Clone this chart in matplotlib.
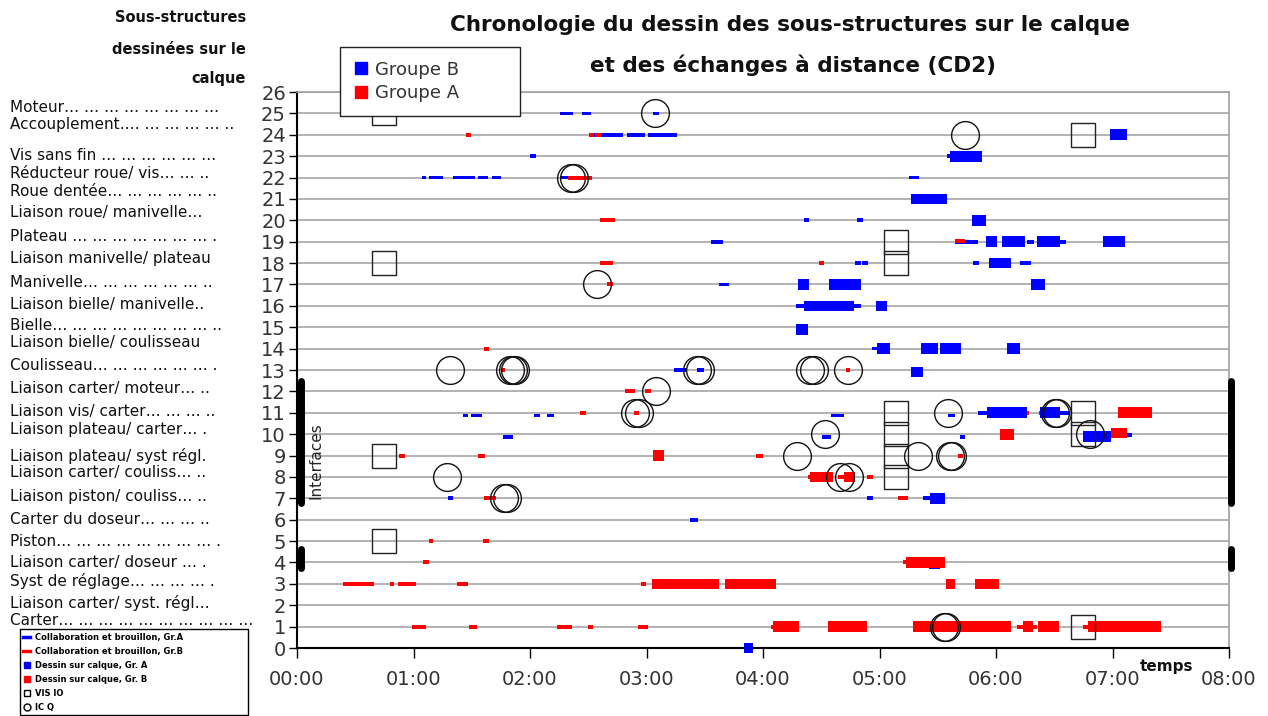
import matplotlib
matplotlib.use('Agg')
import matplotlib.pyplot as plt
from matplotlib.lines import Line2D
import matplotlib.transforms as mtransforms

# ---------------- data (time in minutes, row index) ----------------
row_labels = [
    "",
    "Carter… … … … … … … … … …",
    "Liaison carter/ syst. régl…",
    "Syst de réglage… … … … .",
    "Liaison carter/ doseur … .",
    "Piston… … … … … … … … .",
    "Carter du doseur… … … ..",
    "Liaison piston/ couliss… ..",
    "Liaison carter/ couliss… ..",
    "Liaison plateau/ syst régl.",
    "Liaison plateau/ carter… .",
    "Liaison vis/ carter… … … ..",
    "Liaison carter/ moteur… ..",
    "Coulisseau… … … … … … .",
    "Liaison bielle/ coulisseau",
    "Bielle… … … … … … … … ..",
    "Liaison bielle/ manivelle..",
    "Manivelle… … … … … … ..",
    "Liaison manivelle/ plateau",
    "Plateau … … … … … … … .",
    "Liaison roue/ manivelle…",
    "Roue dentée… … … … … ..",
    "Réducteur roue/ vis… … ..",
    "Vis sans fin … … … … … …",
    "Accouplement…. … … … … ..",
    "Moteur… … … … … … … …",
    "",
]
label_nudge = [0, 0.3, 0.1, 0.15, 0.0, 0.0, 0.0, 0.1, 0.2, 0.0, 0.2, 0.05, 0.15,
               0.2, 0.28, 0.1, 0.05, 0.1, 0.2, 0.23, 0.37, 0.37, 0.2, 0.05, 0.47, 0.28, 0]

hour_labels = ["00:00", "01:00", "02:00", "03:00", "04:00", "05:00", "06:00", "07:00", "08:00"]

# Collaboration et brouillon, Gr.A (blue thin)
blue_thin = [
    (25, 135.4, 142.1), (25, 146.8, 151.4), (25, 183.3, 186.4),
    (24, 152.4, 167.9), (24, 170.0, 179.2), (24, 180.8, 195.7),
    (23, 120.0, 123.1), (23, 334.8, 336.3),
    (22, 64.4, 66.4), (22, 68.0, 75.2), (22, 80.3, 91.7), (22, 93.2, 98.4), (22, 100.4, 105.1),
    (22, 135.4, 145.8), (22, 315.2, 320.3),
    (20, 261.1, 263.7), (20, 288.4, 291.5),
    (19, 213.2, 219.4), (19, 338.9, 350.7), (19, 376.0, 379.6), (19, 393.0, 396.0),
    (18, 287.4, 290.5), (18, 291.0, 294.1), (18, 348.2, 351.2), (18, 372.4, 378.0),
    (17, 217.3, 222.5),
    (16, 257.0, 261.1), (16, 286.9, 290.5),
    (14, 296.1, 298.7),
    (13, 194.2, 200.9), (13, 206.0, 209.6),
    (10.88, 85.5, 88.1), (10.88, 89.6, 95.3), (10.88, 122.1, 125.1), (10.88, 128.8, 132.4),
    (10.88, 275.0, 281.7), (10.88, 335.3, 338.9), (11, 350.7, 355.4), (11, 393.0, 397.6),
    (9.88, 106.1, 111.2), (9.88, 270.4, 275.0), (9.88, 341.5, 344.0), (9.95, 427.5, 430.0),
    (7, 77.8, 80.3), (7, 293.6, 296.7), (7, 322.4, 326.0),
    (6, 202.4, 206.5),
    (3.78, 325.5, 331.2),
]
# Collaboration et brouillon, Gr.B (red thin)
red_thin = [
    (24, 87.0, 89.6), (24, 150.4, 153.0), (24, 153.5, 157.1),
    (22, 139.6, 151.9),
    (20, 156.0, 163.8),
    (19.05, 338.9, 344.0),
    (18, 156.0, 162.7), (18, 268.8, 271.4),
    (17, 159.7, 162.7),
    (14, 96.3, 98.9),
    (13, 105.0, 107.0), (13, 283.0, 285.0),
    (12, 168.9, 174.1), (12, 179.2, 182.3),
    (11, 145.8, 148.8), (11, 173.6, 176.1), (11, 376.0, 377.0), (11, 382.1, 383.2),
    (9, 52.5, 55.6), (9, 93.2, 96.8), (9, 236.4, 240.0), (9, 340.4, 343.0),
    (8, 263.2, 264.2), (8, 278.6, 281.7), (8, 293.6, 296.7),
    (7, 96.3, 102.5), (7, 309.5, 314.7),
    (5, 68.0, 70.0), (5, 95.8, 98.9),
    (4, 64.9, 68.0), (4, 312.1, 313.6),
    (3, 23.7, 39.7), (3, 47.9, 50.0), (3, 52.0, 61.3), (3, 82.4, 88.1), (3, 177.2, 179.7),
    (1, 59.2, 66.4), (1, 88.6, 92.7), (1, 133.9, 141.6), (1, 149.9, 152.4), (1, 175.6, 180.8),
    (1, 244.1, 245.1), (1, 370.8, 373.9), (1, 379.0, 381.1), (1, 404.8, 407.4),
]
# Dessin sur calque, Gr. A (blue thick)
blue_thick = [
    (24, 418.7, 427.5),
    (23, 336.3, 352.8),
    (21, 316.2, 334.8),
    (20, 347.6, 354.8),
    (19, 354.8, 360.5), (19, 363.1, 374.9), (19, 381.1, 393.0), (19, 415.1, 426.4),
    (18, 356.4, 367.7),
    (17, 258.0, 263.7), (17, 274.0, 290.5), (17, 378.0, 385.2),
    (16, 261.1, 286.9), (16, 298.2, 303.9),
    (14.9, 257.0, 263.2),
    (14, 298.7, 305.4), (14, 321.4, 330.1), (14, 331.2, 342.0), (14, 365.7, 372.4),
    (12.9, 316.2, 322.4),
    (11, 355.4, 376.0), (11, 382.7, 393.0),
    (9.88, 404.8, 419.2),
    (7, 326.0, 333.7),
    (0, 230.2, 234.9),
]
# Dessin sur calque, Gr. B (red thick)
red_thick = [
    (11, 422.8, 440.3),
    (10, 362.1, 369.3), (10.05, 419.2, 427.5),
    (9, 183.3, 189.0),
    (8, 264.2, 276.0), (8, 281.7, 287.4),
    (4, 313.6, 333.7),
    (3, 182.8, 217.3), (3, 220.4, 246.7), (3, 334.3, 338.9), (3, 349.2, 361.5),
    (1, 245.1, 258.5), (1, 273.5, 293.6), (1, 317.2, 367.7), (1, 373.9, 379.0),
    (1, 381.6, 392.4), (1, 407.4, 445.0),
]
# VIS IO (squares)
vis_io = [(25, 44.8), (18, 44.8), (9, 44.8), (5, 44.8),
          (19, 308.5), (18, 308.5), (11, 308.5), (10, 308.5), (9, 308.5), (8, 308.5),
          (24, 404.8), (11, 404.8), (10, 404.8), (1, 404.8)]
# IC Q (circles)
ic_q = [(25, 184.4), (24, 344.0), (22, 141.1), (22, 142.7), (17, 154.5),
        (13, 78.8), (13, 109.7), (13, 111.2), (13, 112.2), (13, 206.0), (13, 207.5),
        (13, 264.2), (13, 266.3), (13, 283.8), (12, 184.9),
        (11, 174.1), (11, 176.1), (11, 335.3), (11, 390.4), (11, 391.4),
        (10, 271.9), (10, 408.4),
        (9, 257.5), (9, 319.8), (9, 336.3), (9, 337.3),
        (8, 77.3), (8, 279.7), (8, 284.3),
        (7, 106.6), (7, 108.2),
        (1, 333.2), (1, 334.3)]

BLUE = '#0000ff'
RED = '#ff0000'

# ---------------- figure ----------------
fig = plt.figure(figsize=(12.68, 7.16), dpi=100)
ax = fig.add_axes([297/1268, 1-648/716, (1229-297)/1268, (648-92)/716])
ax.set_xlim(0, 8)
ax.set_ylim(0, 26)

for y in range(1, 27):
    ax.axhline(y, color='#a6a6a6', lw=1.2, zorder=1)

def draw_bars(items, color, h):
    for r, s, e in items:
        ax.barh(r, (e - s)/60, left=s/60, height=h, color=color, lw=0, zorder=3, clip_on=False)

draw_bars(blue_thin, BLUE, 0.17)
draw_bars(red_thin, RED, 0.19)
draw_bars(blue_thick, BLUE, 0.5)
draw_bars(red_thick, RED, 0.5)

ax.plot([m/60 for r, m in vis_io], [r for r, m in vis_io], 's', ms=17, mfc='none',
        mec='#222222', mew=1.0, zorder=4, clip_on=False)
ax.plot([m/60 for r, m in ic_q], [r for r, m in ic_q], 'o', ms=20, mfc='none',
        mec='#111111', mew=1.0, zorder=4, clip_on=False)

# interface brackets
for xx in (2/60, 481/60):
    ax.plot([xx, xx], [6.8, 12.5], color='black', lw=5, solid_capstyle='round', clip_on=False, zorder=5)
    ax.plot([xx, xx], [3.75, 4.65], color='black', lw=5, solid_capstyle='round', clip_on=False, zorder=5)
ax.text(0.165, 8.75, "Interfaces", rotation=90, ha='center', va='center', fontsize=11, color='#222222')

# axes styling
ax.set_xticks(range(9))
ax.set_xticklabels(hour_labels, fontsize=14, color='#333333')
ax.set_yticks(range(27))
ax.set_yticklabels([str(i) for i in range(27)], fontsize=14, color='#333333')
ax.tick_params(axis='y', direction='out', length=6, width=1, pad=2)
ax.tick_params(axis='x', direction='out', length=7, width=1, pad=9)
for s in ('left', 'bottom'):
    ax.spines[s].set_color('black'); ax.spines[s].set_linewidth(1.5)
for s in ('top', 'right'):
    ax.spines[s].set_color('#a0a0a0'); ax.spines[s].set_linewidth(1.2)

# category labels
trans = mtransforms.blended_transform_factory(fig.transFigure, ax.transData)
for i, lab in enumerate(row_labels):
    if lab:
        ax.text(10/1268, i + label_nudge[i], lab, transform=trans, ha='left', va='center',
                fontsize=11, color='#111111', clip_on=False)

# titles
fig.text(790/1268, 1-25/716, "Chronologie du dessin des sous-structures sur le calque",
         ha='center', va='center', fontsize=15.5, fontweight='bold', color='#111111')
fig.text(793/1268, 1-65/716, "et des échanges à distance (CD2)",
         ha='center', va='center', fontsize=15.5, fontweight='bold', color='#111111')
for txt, yy in (("Sous-structures", 18), ("dessinées sur le", 49), ("calque", 78)):
    fig.text(246/1268, 1-yy/716, txt, ha='right', va='center', fontsize=10.5,
             fontweight='bold', color='#111111')
fig.text(1167/1268, 1-667/716, "temps", ha='center', va='center', fontsize=11,
         fontweight='bold', color='#111111')

# top legend
h1 = [Line2D([], [], marker='s', ls='none', color=BLUE, ms=8),
      Line2D([], [], marker='s', ls='none', color=RED, ms=8)]
leg1 = fig.legend(h1, ["Groupe B", "Groupe A"], loc='upper left',
                  bbox_to_anchor=(340/1268, 1-115/716, 180/1268, 68/716),
                  bbox_transform=fig.transFigure, mode='expand',
                  fontsize=13, frameon=True, fancybox=False, framealpha=1, edgecolor='#222222',
                  handlelength=0.8, handletextpad=0.4, borderpad=0.75, labelspacing=0.3,
                  borderaxespad=0)
leg1.get_frame().set_linewidth(1.0)
for t in leg1.get_texts():
    t.set_color('#333333')

# bottom legend
h2 = [Line2D([], [], color=BLUE, lw=2.5),
      Line2D([], [], color=RED, lw=2.5),
      Line2D([], [], marker='s', ls='none', color=BLUE, ms=5),
      Line2D([], [], marker='s', ls='none', color=RED, ms=5),
      Line2D([], [], marker='s', ls='none', mfc='none', mec='black', ms=5),
      Line2D([], [], marker='o', ls='none', mfc='none', mec='black', ms=5)]
l2 = ["Collaboration et brouillon, Gr.A", "Collaboration et brouillon, Gr.B",
      "Dessin sur calque, Gr. A", "Dessin sur calque, Gr. B", "VIS IO", "IC Q"]
leg2 = fig.legend(h2, l2, loc='lower left',
                  bbox_to_anchor=(20/1268, 1/716, 228/1268, 84/716),
                  bbox_transform=fig.transFigure, mode='expand',
                  prop={'size': 6, 'weight': 'bold'},
                  frameon=True, fancybox=False, framealpha=1, edgecolor='black',
                  handlelength=0.8, handletextpad=0.6, borderpad=0.4, labelspacing=0.6,
                  borderaxespad=0)
leg2.get_frame().set_linewidth(1.0)

fig.savefig('out.png', dpi=100)
